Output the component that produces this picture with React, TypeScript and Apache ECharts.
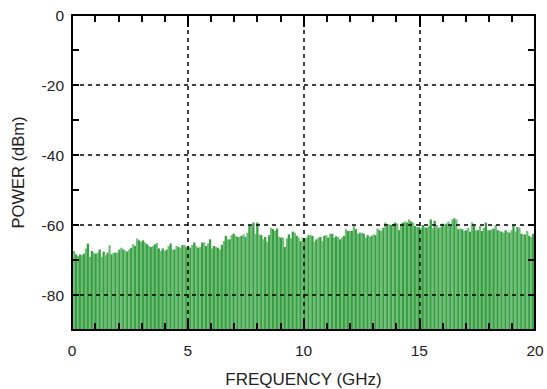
import React, { useEffect, useRef } from "react";
import * as echarts from "echarts";

// Spectrum envelope (dBm), in consecutive frequency segments
const power0to4 = [-67.9,-67.4,-68.4,-68.9,-68.4,-68.6,-68.2,-66.7,-65.3,-69.1,-67.4,-67.9,-68.2,-67.9,-67.0,-69.1,-67.6,-68.6,-67.9,-65.8,-68.4,-67.9,-67.9,-67.9,-67.0,-66.5,-67.0,-67.4,-67.6,-67.0,-66.5,-65.5,-66.0,-63.9,-64.4,-64.8,-64.4,-65.0,-65.5,-66.0,-66.3,-66.0,-65.5,-65.1,-66.7,-67.4];
const power4to8 = [-66.7,-67.4,-67.0,-66.0,-65.3,-67.0,-67.0,-66.0,-66.3,-66.5,-65.7,-65.7,-66.3,-66.0,-66.5,-65.7,-65.0,-66.0,-66.5,-66.3,-65.0,-65.0,-66.0,-65.3,-64.1,-66.7,-66.0,-66.3,-66.5,-67.0,-65.7,-64.6,-63.1,-64.1,-64.1,-62.9,-62.5,-63.1,-63.4,-63.4,-63.1,-62.7,-63.4,-62.2,-60.0,-60.3,-59.3,-62.5];
const power8to12 = [-59.3,-62.7,-62.9,-64.1,-63.4,-64.8,-62.9,-60.8,-61.2,-61.7,-61.0,-63.4,-63.6,-63.6,-66.3,-63.8,-62.7,-63.8,-61.9,-62.2,-63.1,-63.6,-64.6,-63.6,-63.8,-63.6,-62.9,-62.9,-63.1,-64.8,-64.1,-63.6,-63.4,-64.6,-63.1,-62.9,-63.6,-62.5,-62.5,-63.6,-63.3,-63.4,-64.1,-63.6,-63.1,-61.2,-61.7,-61.7];
const power12to16 = [-61.7,-60.3,-61.2,-62.5,-62.2,-62.2,-62.5,-63.6,-62.9,-63.4,-63.1,-62.7,-62.9,-61.0,-61.5,-61.7,-60.8,-59.3,-60.3,-59.8,-60.0,-59.8,-59.3,-59.6,-61.5,-59.6,-59.3,-59.0,-59.3,-58.4,-59.0,-59.3,-60.3,-60.6,-60.6,-61.0,-60.0,-60.6,-60.8,-60.3,-58.4,-61.0,-58.8,-60.0,-60.8,-60.6,-59.6];
const power16to20 = [-59.8,-59.6,-59.0,-60.0,-58.4,-58.1,-58.4,-61.2,-61.0,-61.2,-61.7,-61.5,-60.8,-61.9,-59.3,-60.3,-61.5,-61.5,-60.3,-61.7,-60.8,-59.3,-61.5,-61.5,-61.2,-61.0,-60.0,-61.5,-61.7,-61.9,-62.2,-61.5,-61.9,-62.2,-61.5,-60.0,-61.9,-60.6,-60.8,-62.5,-62.7,-62.7,-61.7,-63.1,-63.4,-62.5,-61.5];

const powerValues = [...power0to4, ...power4to8, ...power8to12, ...power12to16, ...power16to20];

const freqMin = 0;
const freqMax = 20;
const powerMin = -90;
const powerMax = 0;
const xGridValues = [5, 10, 15];
const yGridValues = [-20, -40, -60, -80];

export default function App() {
  const ref = useRef<HTMLDivElement>(null);

  useEffect(() => {
    document.body.style.margin = "0";
    if (!ref.current) return;
    const chart = echarts.init(ref.current, null, { renderer: "svg" });
    const n = powerValues.length;
    const step = (freqMax - freqMin) / (n - 1);
    const data = powerValues.map((p, i) => [freqMin + i * step, p]);
    const font = "Liberation Sans, Arial, Helvetica, sans-serif";
    const axisLine = { show: true, onZero: false, lineStyle: { color: "#000", width: 2 } };
    const majorTick = () => ({ show: true, inside: true, length: 12, lineStyle: { color: "#000", width: 2 } });
    const minorTick = () => ({ show: true, splitNumber: 5, length: 7, lineStyle: { color: "#000", width: 2 } });
    const yTick = () => ({ show: true, inside: true, length: 7, lineStyle: { color: "#000", width: 2 } });

    chart.setOption({
      animation: false,
      backgroundColor: "#fff",
      grid: { left: 72, right: 12, top: 15, bottom: 59, outerBoundsMode: "none", containLabel: false },
      xAxis: [
        {
          type: "value",
          position: "bottom",
          min: freqMin,
          max: freqMax,
          interval: 5,
          z: 10,
          axisLine,
          axisTick: majorTick(),
          minorTick: minorTick(),
          splitLine: { show: false },
          axisLabel: { color: "#222", fontSize: 15.5, fontFamily: font, margin: 12 },
          name: "FREQUENCY (GHz)",
          nameLocation: "middle",
          nameGap: 41,
          nameTextStyle: { color: "#222", fontSize: 17, fontFamily: font },
        },
        {
          type: "value",
          position: "top",
          min: freqMin,
          max: freqMax,
          interval: 5,
          z: 10,
          axisLine,
          axisTick: majorTick(),
          minorTick: minorTick(),
          splitLine: { show: false },
          axisLabel: { show: false },
        },
      ],
      yAxis: [
        {
          type: "value",
          position: "left",
          min: powerMin,
          max: powerMax,
          interval: 10,
          z: 10,
          axisLine,
          axisTick: yTick(),
          splitLine: { show: false },
          axisLabel: {
            color: "#222",
            fontSize: 15.5,
            fontFamily: font,
            margin: 8,
            formatter: (v: number) => (v % 20 === 0 ? String(v) : ""),
          },
          name: "POWER (dBm)",
          nameLocation: "middle",
          nameGap: 46,
          nameTextStyle: { color: "#222", fontSize: 16.5, fontFamily: font },
        },
        {
          type: "value",
          position: "right",
          min: powerMin,
          max: powerMax,
          interval: 10,
          z: 10,
          axisLine,
          axisTick: yTick(),
          splitLine: { show: false },
          axisLabel: { show: false },
        },
      ],
      series: [
        {
          type: "custom",
          xAxisIndex: 0,
          yAxisIndex: 0,
          clip: true,
          z: 2,
          data,
          renderItem: (params: any, api: any) => {
            const x = api.value(0);
            const y = api.value(1);
            const top = api.coord([x, y]);
            const bottom = api.coord([x, powerMin]);
            const w = api.size([step, 0])[0];
            const idx = params.dataIndex;
            return {
              type: "rect",
              shape: { x: top[0] - w / 2, y: top[1], width: w + 0.3, height: bottom[1] - top[1] },
              style: { fill: idx % 2 === 0 ? "#379e44" : "#70be75" },
            };
          },
        },
        {
          type: "line",
          xAxisIndex: 0,
          yAxisIndex: 0,
          data: [],
          z: 5,
          markLine: {
            silent: true,
            symbol: "none",
            label: { show: false },
            lineStyle: { color: "#000", type: [4, 4], width: 1.5 },
            data: [
              ...xGridValues.map((v) => ({ xAxis: v })),
              ...yGridValues.map((v) => ({ yAxis: v })),
            ],
          },
        },
      ],
    });
    return () => chart.dispose();
  }, []);

  return <div ref={ref} style={{ width: 547, height: 389 }} />;
}
